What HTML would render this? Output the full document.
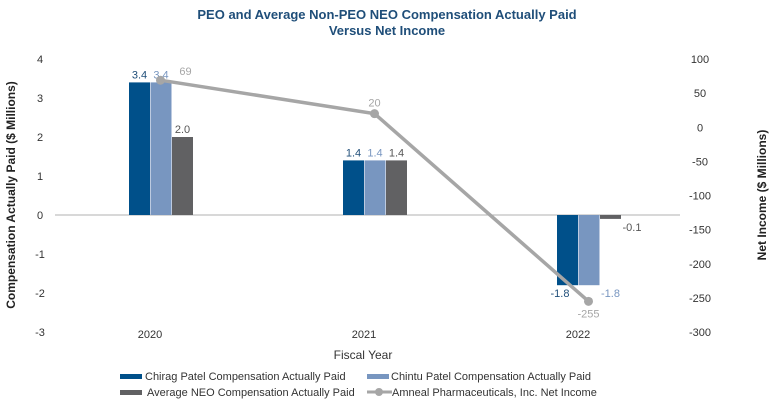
<!DOCTYPE html>
<html><head><meta charset="utf-8"><style>
body{margin:0;background:#fff;font-family:"Liberation Sans",sans-serif}
svg{display:block}
</style></head><body>
<svg id="chart" width="774" height="407">
<text x="387" y="19" text-anchor="middle" font-size="13" font-weight="bold" fill="#1f4e79">PEO and Average Non-PEO NEO Compensation Actually Paid</text>
<text x="387" y="35" text-anchor="middle" font-size="13" font-weight="bold" fill="#1f4e79">Versus Net Income</text>
<g id="axes"></g><g id="marks"></g>
<text transform="translate(15,195) rotate(-90)" text-anchor="middle" font-size="12" font-weight="bold" fill="#222">Compensation Actually Paid ($ Millions)</text>
<text transform="translate(766,195) rotate(-90)" text-anchor="middle" font-size="12" font-weight="bold" fill="#222">Net Income ($ Millions)</text>
<text x="363" y="359" text-anchor="middle" font-size="12" fill="#333">Fiscal Year</text>
<g font-size="11" fill="#333">
<rect x="120" y="374" width="22" height="5" fill="#00508a"/>
<text x="145" y="380">Chirag Patel Compensation Actually Paid</text>
<rect x="120" y="390" width="22" height="5" fill="#616163"/>
<text x="147" y="396">Average NEO Compensation Actually Paid</text>
<rect x="367" y="374" width="22" height="5" fill="#7896c0"/>
<text x="391" y="380">Chintu Patel Compensation Actually Paid</text>
<line x1="367" y1="392" x2="392" y2="392" stroke="#a6a6a6" stroke-width="3"/>
<circle cx="379" cy="392" r="4" fill="#a6a6a6"/>
<text x="392" y="396">Amneal Pharmaceuticals, Inc. Net Income</text>
</g>
</svg>
<script>
const years=["2020","2021","2022"];
const chirag=[3.4,1.4,-1.8];
const chintu=[3.4,1.4,-1.8];
const neo=[2.0,1.4,-0.1];
const income=[69,20,-255];
const leftTicks=[4,3,2,1,0,-1,-2,-3];
const rightTicks=[100,50,0,-50,-100,-150,-200,-250,-300];
const NS="http://www.w3.org/2000/svg";
const y=v=>215-v*39;
const y2=v=>127.3-v*0.6825;
const xc=i=>150+i*214;
const axes=document.getElementById('axes'),marks=document.getElementById('marks');
function mk(t,a,p){const e=document.createElementNS(NS,t);for(const k in a)e.setAttribute(k,a[k]);p.appendChild(e);return e;}
leftTicks.forEach(v=>{const t=mk('text',{x:40,y:y(v)+4,'text-anchor':'middle','font-size':11,fill:'#333'},axes);t.textContent=v;

});
rightTicks.forEach(v=>{const t=mk('text',{x:700,y:y2(v)+4,'text-anchor':'middle','font-size':11,fill:'#333'},axes);t.textContent=v;

});
const zl=mk('line',{x1:55,x2:680,y1:y(0),y2:y(0),stroke:'#b0b0b0','stroke-width':1},axes);


years.forEach((yr,i)=>{const t=mk('text',{x:xc(i),y:338,'text-anchor':'middle','font-size':11,fill:'#333'},axes);t.textContent=yr;

});
const series=[[chirag,'#00508a','#1f4e79','chirag'],[chintu,'#7896c0','#7896c0','chintu'],[neo,'#616163','#555','neo']];
series.forEach(([d,c,tc,n],s)=>{d.forEach((v,i)=>{const x=xc(i)-21+s*21.5;const top=Math.min(y(v),y(0)),h=Math.abs(y(v)-y(0));
const r=mk('rect',{x:x,y:top,width:21,height:h,fill:c},marks);


let lx=x+10.5,ly=v>=0?y(v)-4:y(v)+12;
if(v<0&&s==0)lx=x+3;
if(v<0&&s>0){lx=x+32;ly=y(v)+12;}
const t=mk('text',{x:lx,y:ly,'text-anchor':'middle','font-size':11,fill:tc},marks);t.textContent=v.toFixed(1);

});});
const pts=income.map((v,i)=>[xc(i)+10.5,y2(v)]);
const pl=mk('polyline',{points:pts.map(p=>p.join(',')).join(' '),fill:'none',stroke:'#a6a6a6','stroke-width':3.5},marks);


pts.forEach((p,i)=>{const c=mk('circle',{cx:p[0],cy:p[1],r:4.5,fill:'#a6a6a6'},marks);


const t=mk('text',{x:i==0?p[0]+25:p[0],y:i==2?p[1]+16:(i==0?p[1]-5:p[1]-7),'text-anchor':'middle','font-size':11,fill:'#a6a6a6'},marks);t.textContent=income[i];

});
</script>
</body></html>
